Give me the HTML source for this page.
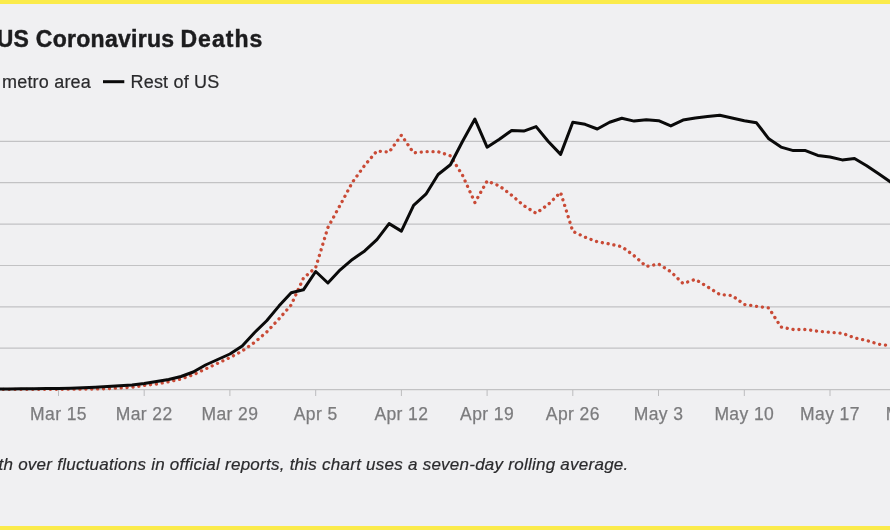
<!DOCTYPE html>
<html><head><meta charset="utf-8"><title>US Coronavirus Deaths</title>
<style>
html,body{margin:0;padding:0;}
body{width:890px;height:530px;overflow:hidden;background:#f0f0f2;position:relative;font-family:"Liberation Sans",sans-serif;}
.bar{position:absolute;left:0;width:890px;background:#fbeb4b;}
svg{position:absolute;left:0;top:0;will-change:transform;}
text{font-family:"Liberation Sans",sans-serif;}
.ax{font-size:17.5px;fill:#7b7b7d;stroke:#7b7b7d;stroke-width:0.25px;letter-spacing:0.4px;}
.title{font-size:23px;font-weight:bold;fill:#1c1c1e;stroke:#1c1c1e;stroke-width:0.45px;letter-spacing:0.42px;}
.leg{font-size:18px;fill:#2a2a2c;stroke:#2a2a2c;stroke-width:0.2px;letter-spacing:0.2px;}
.note{font-size:17px;letter-spacing:0.25px;stroke:#2a2a2c;stroke-width:0.2px;font-style:italic;fill:#2a2a2c;}
</style></head><body>
<svg width="890" height="530" viewBox="0 0 890 530">
<line x1="0" x2="890" y1="141.4" y2="141.4" stroke="#c2c2c4" stroke-width="1.2"/>
<line x1="0" x2="890" y1="182.7" y2="182.7" stroke="#c2c2c4" stroke-width="1.2"/>
<line x1="0" x2="890" y1="224.1" y2="224.1" stroke="#c2c2c4" stroke-width="1.2"/>
<line x1="0" x2="890" y1="265.5" y2="265.5" stroke="#c2c2c4" stroke-width="1.2"/>
<line x1="0" x2="890" y1="306.9" y2="306.9" stroke="#c2c2c4" stroke-width="1.2"/>
<line x1="0" x2="890" y1="348.2" y2="348.2" stroke="#c2c2c4" stroke-width="1.2"/>
<line x1="0" x2="890" y1="389.6" y2="389.6" stroke="#c2c2c4" stroke-width="1.2"/>
<line x1="58.5" x2="58.5" y1="390" y2="396" stroke="#bcbcbe" stroke-width="1"/>
<text x="58.5" y="419.6" text-anchor="middle" class="ax">Mar 15</text>
<line x1="144.2" x2="144.2" y1="390" y2="396" stroke="#bcbcbe" stroke-width="1"/>
<text x="144.2" y="419.6" text-anchor="middle" class="ax">Mar 22</text>
<line x1="229.9" x2="229.9" y1="390" y2="396" stroke="#bcbcbe" stroke-width="1"/>
<text x="229.9" y="419.6" text-anchor="middle" class="ax">Mar 29</text>
<line x1="315.7" x2="315.7" y1="390" y2="396" stroke="#bcbcbe" stroke-width="1"/>
<text x="315.7" y="419.6" text-anchor="middle" class="ax">Apr 5</text>
<line x1="401.4" x2="401.4" y1="390" y2="396" stroke="#bcbcbe" stroke-width="1"/>
<text x="401.4" y="419.6" text-anchor="middle" class="ax">Apr 12</text>
<line x1="487.1" x2="487.1" y1="390" y2="396" stroke="#bcbcbe" stroke-width="1"/>
<text x="487.1" y="419.6" text-anchor="middle" class="ax">Apr 19</text>
<line x1="572.8" x2="572.8" y1="390" y2="396" stroke="#bcbcbe" stroke-width="1"/>
<text x="572.8" y="419.6" text-anchor="middle" class="ax">Apr 26</text>
<line x1="658.5" x2="658.5" y1="390" y2="396" stroke="#bcbcbe" stroke-width="1"/>
<text x="658.5" y="419.6" text-anchor="middle" class="ax">May 3</text>
<line x1="744.3" x2="744.3" y1="390" y2="396" stroke="#bcbcbe" stroke-width="1"/>
<text x="744.3" y="419.6" text-anchor="middle" class="ax">May 10</text>
<line x1="830.0" x2="830.0" y1="390" y2="396" stroke="#bcbcbe" stroke-width="1"/>
<text x="830.0" y="419.6" text-anchor="middle" class="ax">May 17</text>
<line x1="915.7" x2="915.7" y1="390" y2="396" stroke="#bcbcbe" stroke-width="1"/>
<text x="915.7" y="419.6" text-anchor="middle" class="ax">May 24</text>
<path d="M-2.7,389.3 L9.5,389.3 L21.8,389.3 L34.0,389.3 L46.3,389.3 L58.5,389.3 L70.7,389.2 L83.0,389.1 L95.2,389.0 L107.5,388.6 L119.7,388.0 L132.0,387.2 L144.2,385.5 L156.5,384.0 L168.7,381.8 L181.0,379.0 L193.2,374.8 L205.5,369.0 L217.7,363.3 L229.9,357.6 L242.2,351.0 L254.4,342.5 L266.7,332.0 L278.9,319.0 L291.2,304.9 L303.4,278.2 L315.7,267.5 L327.9,227.5 L340.2,205.0 L352.4,182.3 L364.7,165.3 L376.9,151.0 L389.1,152.2 L401.4,135.2 L413.6,152.9 L425.9,151.7 L438.1,151.7 L450.4,155.8 L462.6,175.5 L474.9,202.5 L487.1,181.0 L499.4,185.9 L511.6,195.2 L523.8,205.6 L536.1,213.3 L548.3,204.4 L560.6,192.4 L572.8,231.4 L585.1,237.2 L597.3,241.8 L609.6,244.0 L621.8,246.7 L634.1,255.7 L646.3,266.5 L658.6,264.0 L670.8,271.7 L683.0,283.5 L695.3,279.4 L707.5,286.8 L719.8,294.5 L732.0,295.5 L744.3,304.5 L756.5,306.3 L768.8,308.0 L781.0,327.0 L793.3,329.5 L805.5,329.5 L817.8,331.2 L830.0,332.2 L842.2,333.3 L854.5,337.8 L866.7,340.5 L879.0,344.3 L891.2,345.9" fill="none" stroke="#c94a36" stroke-width="3.3" stroke-linecap="round" stroke-linejoin="round" stroke-dasharray="0.1 5.8"/>
<path d="M-2.7,389.0 L9.5,388.9 L21.8,388.8 L34.0,388.7 L46.3,388.6 L58.5,388.5 L70.7,388.2 L83.0,387.7 L95.2,387.2 L107.5,386.6 L119.7,385.8 L132.0,384.9 L144.2,383.6 L156.5,381.5 L168.7,379.5 L181.0,376.5 L193.2,372.0 L205.5,365.0 L217.7,359.5 L229.9,354.0 L242.2,346.0 L254.4,332.8 L266.7,320.7 L278.9,306.1 L291.2,292.7 L303.4,289.8 L315.7,271.5 L327.9,283.0 L340.2,269.8 L352.4,259.4 L364.7,250.9 L376.9,239.6 L389.1,223.6 L401.4,231.1 L413.6,205.3 L425.9,194.2 L438.1,174.5 L450.4,164.8 L462.6,141.3 L474.9,119.1 L487.1,147.2 L499.4,139.3 L511.6,130.5 L523.8,131.1 L536.1,126.6 L548.3,141.5 L560.6,154.4 L572.8,122.2 L585.1,124.3 L597.3,129.0 L609.6,122.2 L621.8,118.3 L634.1,121.1 L646.3,119.7 L658.6,120.7 L670.8,125.9 L683.0,120.1 L695.3,118.0 L707.5,116.6 L719.8,115.3 L732.0,118.0 L744.3,120.7 L756.5,122.8 L768.8,138.8 L781.0,147.1 L793.3,150.6 L805.5,150.6 L817.8,155.4 L830.0,157.0 L842.2,159.9 L854.5,158.5 L866.7,165.7 L879.0,174.0 L891.2,182.5" fill="none" stroke="#0a0a0a" stroke-width="3" stroke-linejoin="round" stroke-linecap="butt"/>
<text x="-3.3" y="47.3" class="title" style="letter-spacing:0.27px">US Coronavirus</text>
<text x="180.4" y="47.3" class="title" style="letter-spacing:1.06px">Deaths</text>
<text x="2" y="88" class="leg">metro area</text>
<line x1="103" x2="124.3" y1="81.7" y2="81.7" stroke="#0a0a0a" stroke-width="3"/>
<text x="130.5" y="88" class="leg">Rest of US</text>
<text x="-1.5" y="469.6" class="note">th over fluctuations in official reports, this chart uses a seven-day rolling average.</text>
</svg>
<div class="bar" style="top:0;height:3.5px"></div>
<div class="bar" style="top:526px;height:4px"></div>
</body></html>
